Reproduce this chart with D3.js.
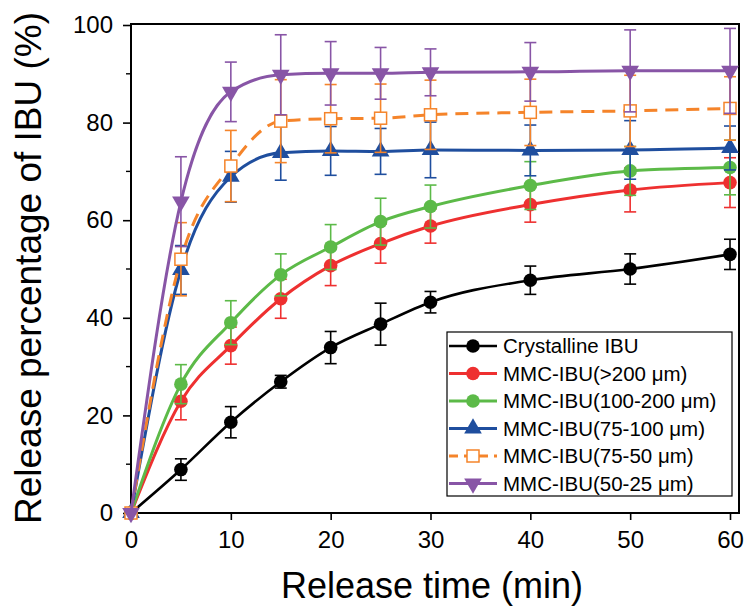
<!DOCTYPE html>
<html>
<head>
<meta charset="utf-8">
<script src="https://cdn.jsdelivr.net/npm/d3@7"></script>
<style>
  body { margin: 0; background: #fff; }
  svg { display: block; font-family: "Liberation Sans", Arial, sans-serif; }
</style>
</head>
<body>
<div id="chart"></div>
<script>
// release times (min)
const times = [0, 5, 10, 15, 20, 25, 30, 40, 50, 60];

// release percentage (%) and error bars
const crystalline    = [0, 8.9, 18.6, 26.9, 33.9, 38.7, 43.2, 47.7, 50.0, 53.0];
const crystallineErr = [0, 2.2, 3.2, 1.3, 3.3, 4.3, 2.2, 2.9, 3.1, 3.1];
const mmc200    = [0, 22.9, 34.3, 43.9, 50.7, 55.2, 58.8, 63.2, 66.2, 67.7];
const mmc200Err = [0, 3.8, 3.8, 4.0, 4.1, 4.0, 3.5, 3.6, 4.5, 5.1];
const mmc100    = [0, 26.4, 39.0, 48.8, 54.5, 59.7, 62.8, 67.1, 70.1, 70.8];
const mmc100Err = [0, 4.0, 4.5, 4.3, 4.6, 4.8, 4.4, 4.9, 5.0, 5.6];
const mmc75    = [0, 49.8, 68.9, 73.8, 74.2, 74.1, 74.4, 74.3, 74.4, 74.8];
const mmc75Err = [0, 5.0, 5.2, 5.6, 5.0, 4.7, 5.7, 5.2, 6.0, 4.5];
const mmc50    = [0, 52.0, 71.1, 80.3, 80.8, 80.9, 81.6, 82.1, 82.4, 82.9];
const mmc50Err = [0, 7.5, 7.3, 8.5, 7.0, 7.0, 7.1, 6.8, 7.3, 6.5];
const mmc25    = [0, 63.8, 86.3, 89.8, 90.1, 90.1, 90.3, 90.4, 90.6, 90.6];
const mmc25Err = [0, 9.2, 6.1, 8.2, 6.5, 5.3, 4.8, 6.0, 8.4, 8.7];

const seriesNames = ["Crystalline IBU", "MMC-IBU(>200 \u03bcm)", "MMC-IBU(100-200 \u03bcm)",
    "MMC-IBU(75-100 \u03bcm)", "MMC-IBU(75-50 \u03bcm)", "MMC-IBU(50-25 \u03bcm)"];

const xTicks = [0, 10, 20, 30, 40, 50, 60];
const yTicks = [0, 20, 40, 60, 80, 100];
const yMinor = [10, 30, 50, 70, 90];

const series = [
    {name: seriesNames[0], values: crystalline, err: crystallineErr, color: "#000000", shape: "circle", width: 2.6},
    {name: seriesNames[1], values: mmc200, err: mmc200Err, color: "#ee3030", shape: "circle", width: 3},
    {name: seriesNames[2], values: mmc100, err: mmc100Err, color: "#5cba48", shape: "circle", width: 3},
    {name: seriesNames[3], values: mmc75, err: mmc75Err, color: "#1f4e9e", shape: "triangle", width: 3},
    {name: seriesNames[4], values: mmc50, err: mmc50Err, color: "#f5842a", shape: "square", width: 3, dash: "13,8"},
    {name: seriesNames[5], values: mmc25, err: mmc25Err, color: "#8855a6", shape: "triangleDown", width: 3}
];

const W = 746, H = 611;
const svg = d3.select("#chart").append("svg")
    .attr("width", W)
    .attr("height", H);

const x = d3.scaleLinear().domain([0, 60]).range([131, 730]);
const y = d3.scaleLinear().domain([0, 100]).range([513, 25]);

const frame = {left: 131, right: 739, top: 24, bottom: 513};

// axes
const yAxis = d3.axisLeft(y).tickValues(yTicks).tickSize(8).tickPadding(10);
const gy = svg.append("g").attr("transform", `translate(${frame.left},0)`).call(yAxis);
gy.selectAll(".domain").remove();
gy.selectAll("line").attr("stroke-width", 1.6);
gy.selectAll("text").attr("font-size", 24).attr("fill", "#000");

svg.append("g").selectAll("line")
    .data(yMinor)
    .join("line")
    .attr("x1", frame.left - 5).attr("x2", frame.left)
    .attr("y1", d => y(d)).attr("y2", d => y(d))
    .attr("stroke", "#000").attr("stroke-width", 1.4);

const xAxis = d3.axisBottom(x).tickValues(xTicks).tickSize(7).tickPadding(11);
const gx = svg.append("g").attr("transform", `translate(0,${frame.bottom})`).call(xAxis);
gx.selectAll(".domain").remove();
gx.selectAll("line").attr("stroke-width", 1.6);
gx.selectAll("text").attr("font-size", 24).attr("fill", "#000");

// frame
svg.append("rect")
    .attr("x", frame.left).attr("y", frame.top)
    .attr("width", frame.right - frame.left)
    .attr("height", frame.bottom - frame.top)
    .attr("fill", "none").attr("stroke", "#000").attr("stroke-width", 2);

// axis titles
svg.append("text")
    .attr("x", 432)
    .attr("y", 598)
    .attr("text-anchor", "middle")
    .attr("font-size", 36)
    .text("Release time (min)");

svg.append("text")
    .attr("transform", `translate(41,268) rotate(-90)`)
    .attr("text-anchor", "middle")
    .attr("font-size", 37)
    .text("Release percentage of IBU (%)");

// marker drawing
function drawMarker(g, shape, color, cx, cy) {
    if (shape === "circle") {
        g.append("circle").attr("cx", cx).attr("cy", cy).attr("r", 6.8).attr("fill", color);
    } else if (shape === "square") {
        g.append("rect").attr("x", cx - 6).attr("y", cy - 6).attr("width", 12).attr("height", 12)
            .attr("fill", "#fff").attr("stroke", color).attr("stroke-width", 1.5);
    } else {
        const sym = d3.symbol().type(d3.symbolTriangle).size(135);
        g.append("path").attr("d", sym())
            .attr("transform", `translate(${cx},${cy})` + (shape === "triangleDown" ? " rotate(180)" : ""))
            .attr("fill", color);
    }
}

const line = d3.line()
    .x((d, i) => x(times[i]))
    .y(d => y(d))
    .curve(d3.curveMonotoneX);

const plot = svg.append("g");

series.forEach(s => {
    const g = plot.append("g");

    g.append("path")
        .datum(s.values)
        .attr("d", line)
        .attr("fill", "none")
        .attr("stroke", s.color)
        .attr("stroke-width", s.width)
        .attr("stroke-dasharray", s.dash || null);

    // error bars
    s.values.forEach((v, i) => {
        const e = s.err[i];
        if (!e) return;
        const cx = x(times[i]);
        g.append("line").attr("x1", cx).attr("x2", cx).attr("y1", y(v - e)).attr("y2", y(v + e))
            .attr("stroke", s.color).attr("stroke-width", 1.6);
        [v - e, v + e].forEach(b => {
            g.append("line").attr("x1", cx - 6).attr("x2", cx + 6).attr("y1", y(b)).attr("y2", y(b))
                .attr("stroke", s.color).attr("stroke-width", 1.6);
        });
    });

    s.values.forEach((v, i) => drawMarker(g, s.shape, s.color, x(times[i]), y(v)));
});

// legend
const legend = svg.append("g");
legend.append("rect")
    .attr("x", 447).attr("y", 332).attr("width", 285).attr("height", 164)
    .attr("fill", "#fff").attr("stroke", "#000").attr("stroke-width", 1.2);

series.forEach((s, i) => {
    const ly = 346 + i * 27.5;
    legend.append("line")
        .attr("x1", 449).attr("x2", 497).attr("y1", ly).attr("y2", ly)
        .attr("stroke", s.color).attr("stroke-width", s.width)
        .attr("stroke-dasharray", s.dash ? "9,6" : null);
    drawMarker(legend, s.shape, s.color, 473, ly);
    legend.append("text")
        .attr("x", 503).attr("y", ly)
        .attr("dy", "0.35em")
        .attr("font-size", 20.5)
        .text(s.name);
});
</script>
</body>
</html>
